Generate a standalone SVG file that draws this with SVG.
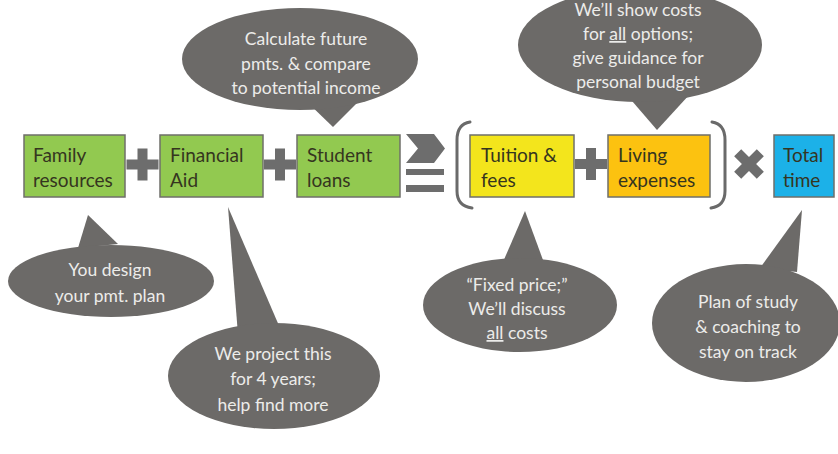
<svg xmlns="http://www.w3.org/2000/svg" width="838" height="454" viewBox="0 0 838 454">
<style>
.box{stroke:#6f6f6a;stroke-width:1.5}
.bt{font-family:Lato,"Liberation Sans",sans-serif;font-size:19px;fill:#35351f}
.bub{fill:#6c6a68}
.tt{font-family:Lato,"Liberation Sans",sans-serif;font-size:17.5px;fill:#ececea;text-anchor:middle}
.op{fill:#6d6d6d}
.br{fill:none;stroke:#6a6a6a;stroke-width:3;stroke-linecap:round}
</style>
<defs>
<path id="plus" d="M-5,-16 h10 v11 h11 v10 h-11 v11 h-10 v-11 h-11 v-10 h11 z"/>
</defs>
<rect width="838" height="454" fill="#ffffff"/>

<g id="node-family">
<rect class="box" x="24" y="135" width="101" height="62" fill="#92c950"/>
<text class="bt" x="33" y="162">Family</text>
<text class="bt" x="33" y="187">resources</text>
</g>
<g id="node-aid">
<rect class="box" x="160" y="135" width="103" height="62" fill="#92c950"/>
<text class="bt" x="170" y="162">Financial</text>
<text class="bt" x="170" y="187">Aid</text>
</g>
<g id="node-loans">
<rect class="box" x="297" y="135" width="103" height="62" fill="#92c950"/>
<text class="bt" x="307" y="162">Student</text>
<text class="bt" x="307" y="187">loans</text>
</g>
<g id="node-tuition">
<rect class="box" x="470" y="135" width="104" height="62" fill="#f3e51c"/>
<text class="bt" x="481" y="162">Tuition &amp;</text>
<text class="bt" x="481" y="187">fees</text>
</g>
<g id="node-living">
<rect class="box" x="608" y="135" width="102" height="62" fill="#fcc210"/>
<text class="bt" x="618" y="162">Living</text>
<text class="bt" x="618" y="187">expenses</text>
</g>
<g id="node-time">
<rect class="box" x="774" y="135" width="60" height="62" fill="#1cb1e8"/>
<text class="bt" x="783" y="162">Total</text>
<text class="bt" x="783" y="187">time</text>
</g>

<g id="operators">
<use href="#plus" class="op" x="142.5" y="164.5"/>
<use href="#plus" class="op" x="280" y="164.5"/>
<use href="#plus" class="op" x="591" y="164"/>
<use href="#plus" class="op" transform="translate(749,164) rotate(45)"/>
<polygon class="op" points="406,134 434,134 445,148.5 434,163 406,163 418,148.5"/>
<rect class="op" x="406" y="169" width="38" height="6"/>
<rect class="op" x="406" y="185" width="38" height="7"/>
<path class="br" d="M470,122 Q457,124 457,140 L457,191 Q457,206 472,208"/>
<path class="br" d="M712,122 Q725,124 725,140 L725,191 Q725,206 711,208"/>
</g>

<g id="connectors">
<polygon class="bub" points="305,100 362,98 333,127"/>
<polygon class="bub" points="626,94 690,94 657,130"/>
<polygon class="bub" points="78,248 88,215 118,244"/>
<polygon class="bub" points="238,335 228,207 280,328"/>
<polygon class="bub" points="503,262 525,211 543,260"/>
<polygon class="bub" points="760,268 802,210 797,272"/>
</g>

<g id="bubble-loans">
<ellipse class="bub" cx="300" cy="59" rx="118" ry="51"/>
<text class="tt" x="306" y="45">Calculate future</text>
<text class="tt" x="306" y="70">pmts. &amp; compare</text>
<text class="tt" x="306" y="94">to potential income</text>
</g>
<g id="bubble-living">
<ellipse class="bub" cx="640" cy="45" rx="122" ry="57"/>
<text class="tt" x="638" y="16">We’ll show costs</text>
<text class="tt" x="638" y="40">for <tspan text-decoration="underline">all</tspan> options;</text>
<text class="tt" x="638" y="64">give guidance for</text>
<text class="tt" x="638" y="88">personal budget</text>
</g>
<g id="bubble-family">
<ellipse class="bub" cx="111" cy="281" rx="103" ry="36"/>
<text class="tt" x="110" y="276">You design</text>
<text class="tt" x="110" y="302">your pmt. plan</text>
</g>
<g id="bubble-aid">
<ellipse class="bub" cx="274" cy="376" rx="106" ry="53"/>
<text class="tt" x="273" y="360">We project this</text>
<text class="tt" x="273" y="385">for 4 years;</text>
<text class="tt" x="273" y="411">help find more</text>
</g>
<g id="bubble-tuition">
<ellipse class="bub" cx="520" cy="305" rx="97" ry="47"/>
<text class="tt" x="517" y="291">“Fixed price;”</text>
<text class="tt" x="517" y="315">We’ll discuss</text>
<text class="tt" x="517" y="339"><tspan text-decoration="underline">all</tspan> costs</text>
</g>
<g id="bubble-time">
<ellipse class="bub" cx="746" cy="323" rx="94" ry="59"/>
<text class="tt" x="748" y="308">Plan of study</text>
<text class="tt" x="748" y="333">&amp; coaching to</text>
<text class="tt" x="748" y="358">stay on track</text>
</g>
</svg>
